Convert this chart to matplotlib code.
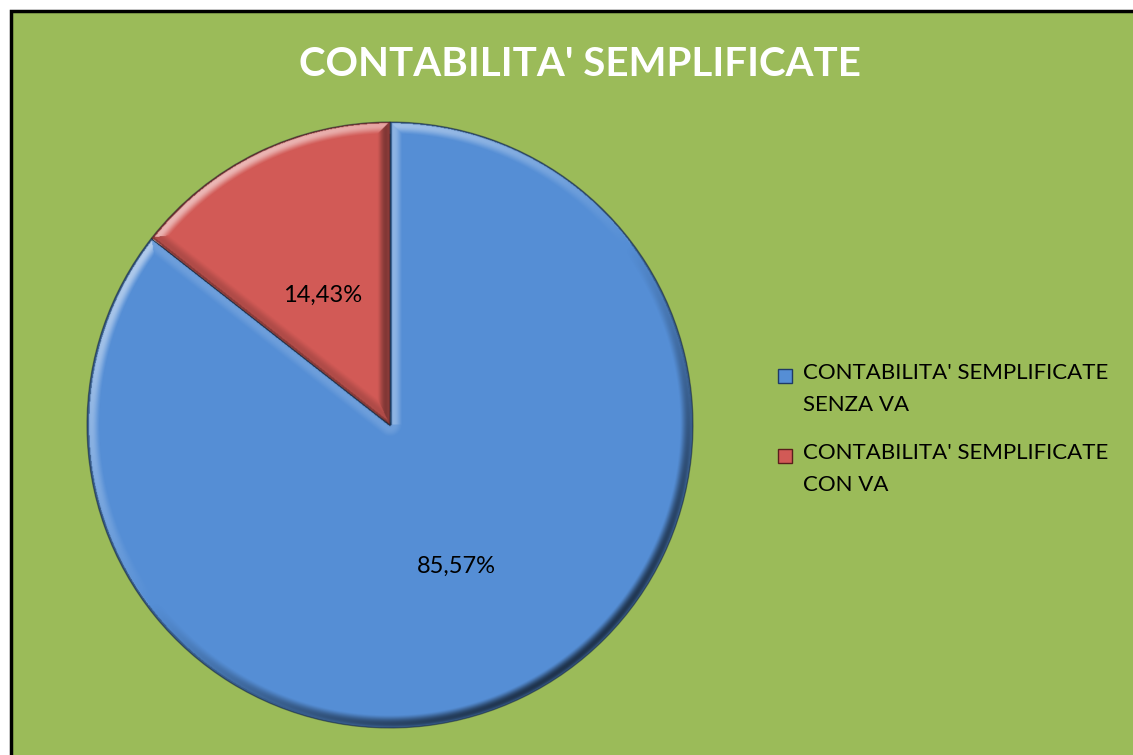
import matplotlib
matplotlib.use("Agg")
import matplotlib.pyplot as plt
import numpy as np
from matplotlib.patches import Rectangle

title = "CONTABILITA' SEMPLIFICATE"
categories = ["CONTABILITA' SEMPLIFICATE\nSENZA VA", "CONTABILITA' SEMPLIFICATE\nCON VA"]
values = [85.57, 14.43]
labels = ["85,57%", "14,43%"]
colors = ["#558ED5", "#D25A56"]
dark = ["#1F3A66", "#5A1E1C"]

plt.rcParams['font.family'] = ['Lato', 'DejaVu Sans']

W, H = 1133, 755
fig = plt.figure(figsize=(W / 100, H / 100), dpi=100)
fig.patch.set_facecolor("white")
fig.add_artist(Rectangle((11 / W, -0.01), 1.02, (H - 11) / H + 0.01, transform=fig.transFigure,
                         facecolor="#9BBB59", edgecolor="black", linewidth=2.5, zorder=-10))

cx, cy, r = 390, 425, 303
ax = fig.add_axes([(cx - r) / W, (H - cy - r) / H, 2 * r / W, 2 * r / H])
ax.axis("off")
ax.patch.set_visible(False)

wedges, _ = ax.pie(values, colors=colors, radius=1.0, startangle=90, counterclock=False,
                   wedgeprops=dict(linewidth=0.9, edgecolor=(0.05, 0.1, 0.2, 0.45)))

# directional bevel shading (light from upper-left), clipped to each wedge
N = 900
g = np.linspace(-1, 1, N)
X, Y = np.meshgrid(g, g)
rho = np.hypot(X, Y) + 1e-9
phi = np.degrees(np.arctan2(Y, X))
L = np.array([-0.6, 0.8])
bw = 0.042
for w in wedges:
    t1, t2 = w.theta1, w.theta2
    rel1 = np.mod(phi - t1, 360)
    rel2 = np.mod(t2 - phi, 360)
    d1 = np.where(rel1 < 90, rho * np.sin(np.radians(rel1)), rho)
    d2 = np.where(rel2 < 90, rho * np.sin(np.radians(rel2)), rho)
    d0 = 1 - rho
    a1 = np.radians(t1 - 90)
    a2 = np.radians(t2 + 90)
    n0 = (X * L[0] + Y * L[1]) / rho
    n1 = np.full_like(X, np.cos(a1) * L[0] + np.sin(a1) * L[1])
    n2 = np.full_like(X, np.cos(a2) * L[0] + np.sin(a2) * L[1])
    D = np.stack([d0, d1, d2])
    NL = np.stack([n0, n1, n2])
    idx = np.argmin(D, axis=0)
    d = np.take_along_axis(D, idx[None], 0)[0]
    nl = np.take_along_axis(NL, idx[None], 0)[0]
    t = np.clip(d / bw, 0, 1)
    prof = np.where(t < 1, np.sin(np.pi * np.clip(t * 0.9 + 0.1, 0, 1)) ** 0.8 * (1 - t) ** 0.6, 0)
    s = nl * prof
    rgba = np.zeros((N, N, 4))
    pos = s > 0
    rgba[pos, :3] = 1.0
    rgba[pos, 3] = np.clip(s[pos] * 0.75, 0, 1)
    rgba[~pos, 3] = np.clip(-s[~pos] * 0.85, 0, 1)
    # thin dark outline at the very edge
    edge = (d < 0.006)
    rgba[edge, :3] = 0.0
    rgba[edge, 3] = np.maximum(rgba[edge, 3], 0.35)
    im = ax.imshow(rgba, extent=(-1, 1, -1, 1), origin="lower", interpolation="bilinear",
                   zorder=3)
    im.set_clip_path(w)

ax.set_xlim(-1.0, 1.0)
ax.set_ylim(-1.0, 1.0)
ax.set_aspect("equal")

ax.text(0.218, -0.465, labels[0], ha="center", va="center", fontsize=17, color="black", zorder=5)
ax.text(-0.224, 0.429, labels[1], ha="center", va="center", fontsize=17, color="black", zorder=5)

fig.text(580 / W, 1 - 64 / H, title, ha="center", va="center", fontsize=29,
         fontweight="bold", color="white")

# legend (manual)
leg_x, leg_y0, leg_dy = 778, 368, 80
for i, (cat, col) in enumerate(zip(categories, colors)):
    y = leg_y0 + i * leg_dy
    fig.add_artist(Rectangle((leg_x / W, 1 - (y + 15) / H), 14 / W, 14 / H,
                             transform=fig.transFigure, facecolor=col,
                             edgecolor=dark[i], linewidth=1.0))
    fig.text((leg_x + 25) / W, 1 - (y - 5) / H, cat, ha="left", va="top",
             fontsize=16, color="black", linespacing=1.75)

fig.savefig("out.png", dpi=100, facecolor="white")
